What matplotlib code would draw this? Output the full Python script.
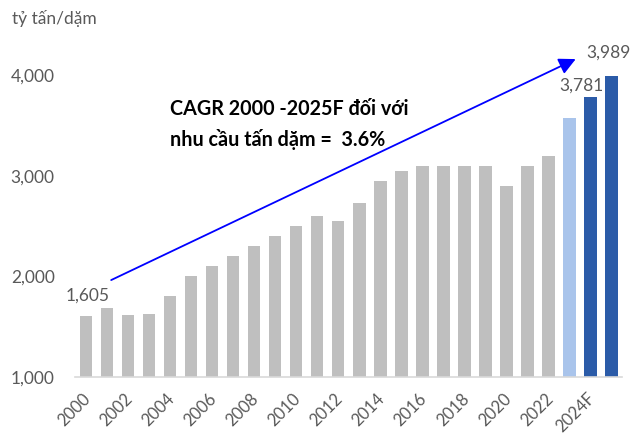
import matplotlib
matplotlib.use("Agg")
import matplotlib.pyplot as plt
from matplotlib.transforms import ScaledTranslation

years = [str(y) for y in range(2000, 2024)] + ["2024F", "2025F"]
values = [1605, 1690, 1615, 1630, 1800, 2000, 2100, 2200, 2300, 2400, 2500, 2600,
          2550, 2730, 2950, 3050, 3100, 3100, 3100, 3100, 2900, 3100, 3200, 3570,
          3781, 3989]
colors = ["#BFBFBF"] * 23 + ["#A9C4EB", "#2B5BA8", "#2B5BA8"]
tick_labels = [y if i % 2 == 0 else "" for i, y in enumerate(years)]
labeled = {0: "1,605", 24: "3,781", 25: "3,989"}

plt.rcParams['font.family'] = ['Lato', 'DejaVu Sans']
fig = plt.figure(figsize=(6.34, 4.36), dpi=100)
ax = fig.add_axes([0.119, 0.1353, 0.862, 0.6927])

x = list(range(len(years)))
ax.bar(x, values, width=0.6, color=colors, zorder=2)
ax.set_xlim(-0.5, len(years) - 0.5)
ax.set_ylim(1000, 4000)
ax.set_yticks([1000, 2000, 3000, 4000])
ax.set_yticklabels(["1,000", "2,000", "3,000", "4,000"])
ax.set_xticks(x)
ax.set_xticklabels(tick_labels, rotation=45, ha="right", va="center", rotation_mode="anchor")
ax.tick_params(axis="y", length=0, labelsize=12.5, colors="#595959", pad=15)
ax.tick_params(axis="x", length=0, labelsize=12, colors="#595959", pad=13.5)
shift = ScaledTranslation(1.5 / 72, 0, fig.dpi_scale_trans)
for lab in ax.get_xticklabels():
    lab.set_transform(lab.get_transform() + shift)
for s in ["top", "right", "left"]:
    ax.spines[s].set_visible(False)
ax.spines["bottom"].set_color("#D9D9D9")
ax.spines["bottom"].set_linewidth(1.2)

label_pos = {0: (0.1, 1760), 24: (-0.43, 3840), 25: (-0.12, 4168)}
for i, txt in labeled.items():
    lx, ly = label_pos[i]
    ax.text(i + lx, ly, txt, ha="center", va="baseline", fontsize=12.5, color="#595959")

ax.annotate("", xy=(23.3, 4158), xytext=(1.2, 1963),
            arrowprops=dict(arrowstyle="-|>,head_length=1.0,head_width=0.5",
                            color="#0000FF", lw=1.3, shrinkA=0, shrinkB=0),
            annotation_clip=False)

ax.text(4.0, 3512, "CAGR 2000 -2025F đối với\nnhu cầu tấn dặm =  3.6%", ha="left", va="center",
        fontsize=14.2, fontweight="bold", color="#000000", linespacing=1.6)

fig.text(0.019, 0.958, "tỷ tấn/dặm", ha="left", va="center", fontsize=12.5, color="#595959")

fig.savefig("out.png", dpi=100)
